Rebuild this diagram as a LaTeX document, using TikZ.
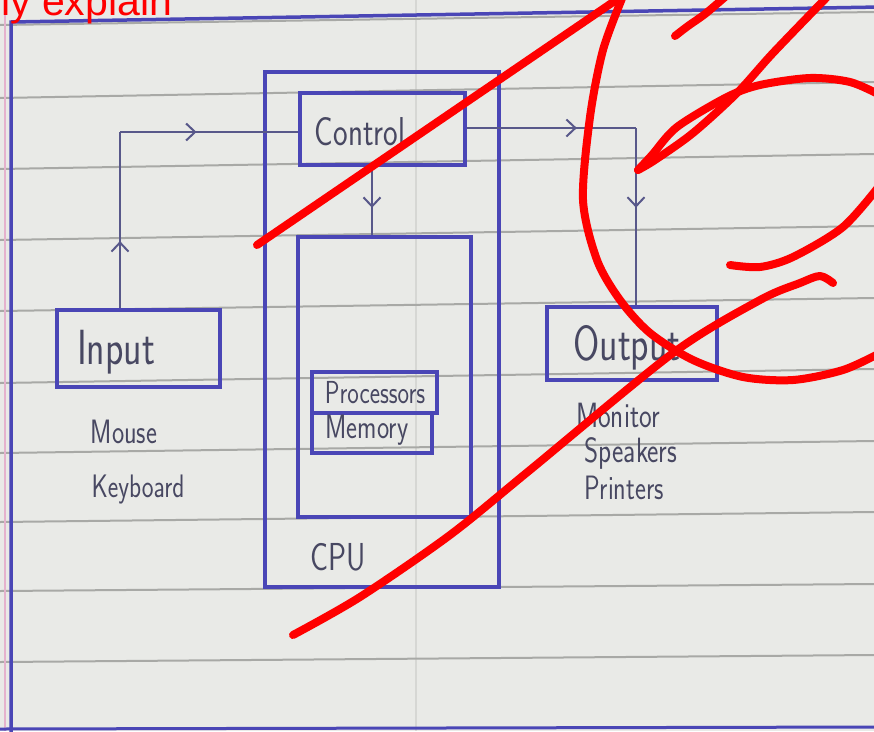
\documentclass[tikz,border=0pt]{standalone}
\usepackage{fontspec}
\newfontfamily\redsans{Liberation Sans}
\usetikzlibrary{arrows.meta,decorations.markings}
\definecolor{paper}{RGB}{233,234,231}
\definecolor{rulec}{RGB}{168,169,166}
\definecolor{foldc}{RGB}{214,215,212}
\definecolor{pen}{RGB}{74,70,182}
\definecolor{connc}{RGB}{88,88,138}
\definecolor{ink}{RGB}{72,72,98}
\definecolor{marginc}{RGB}{228,178,205}
\definecolor{scrib}{RGB}{255,0,0}
\newcommand{\hw}[1]{\scalebox{1}[1.3]{#1}}
\tikzset{
  box/.style={draw=pen,line width=4pt,rectangle,inner sep=0pt},
  hand/.style={text=ink,inner sep=0pt},
  conn/.style={draw=connc,line width=2pt},
  midarrow/.style={postaction={decorate},decoration={markings,mark=at position #1 with {\arrow{Straight Barb[length=9pt,width=17pt,line width=2pt]}}}},
  scribble/.style={draw=scrib,line width=8pt,line cap=round,line join=round},
  notebook/.style={draw=rulec,line width=2pt},
}
\begin{document}
\begin{tikzpicture}[x=1pt,y=-1pt]
\useasboundingbox (0,0) rectangle (874,731);
\clip (0,0) rectangle (874,731);
\fill[paper] (0,0) rectangle (874,731);
% fold line
\draw[foldc,line width=1.5pt] (416,0) -- (416,731);
% notebook rules
\foreach \a/\b in {25/12,98/82,169/154,240/226,311/298,383/369,453/441,522/512,591/584,662/655}
  \draw[notebook] (0,\a) -- (874,\b);
% margin and frame
\draw[marginc,line width=1.5pt] (5,0) -- (5,731);
\draw[pen,line width=3.5pt] (11,735) -- (11,22) -- (880,7);
\draw[pen,line width=3pt] (0,729) -- (880,727);
% boxes
\node[box,minimum width=234pt,minimum height=515pt] (cpu) at (382,329.5) {};
\node[box,minimum width=165pt,minimum height=72pt] (ctrl) at (382.5,129) {};
\node[box,minimum width=173pt,minimum height=280pt] (inner) at (384.5,377) {};
\node[box,minimum width=125pt,minimum height=41pt] (proc) at (374.5,392.5) {};
\node[box,minimum width=120pt,minimum height=40pt] (mem) at (372,433) {};
\node[box,minimum width=163pt,minimum height=77pt] (inp) at (138.5,348.5) {};
\node[box,minimum width=170pt,minimum height=73pt] (out) at (632,343.5) {};
% connectors
\coordinate (c1) at (120,132);
\coordinate (c2) at (636,128);
\coordinate (c3) at (372,200);
\draw[conn,midarrow=0.38] (inp.north -| c1) -- (c1);
\draw[conn,midarrow=0.43] (c1) -- (ctrl.west |- c1);
\draw[conn,midarrow=0.6] (ctrl.south -| c3) -- (inner.north -| c3);
\draw[conn,midarrow=0.65] (ctrl.east |- c2) -- (c2);
\draw[conn,midarrow=0.45] (c2) -- (out.north -| c2);
% texts
\node[hand,font=\sffamily\fontsize{31}{31}\selectfont] (tctrl) at (360,132) {\hw{Control}};
\node[hand,font=\sffamily\fontsize{38}{38}\selectfont] (tinp) at (116,352) {\hw{Input}};
\node[hand,font=\sffamily\fontsize{38}{38}\selectfont] (tout) at (627,348) {\hw{Output}};
\node[hand,font=\sffamily\fontsize{24.5}{25}\selectfont] (tproc) at (375,393) {\hw{Processors}};
\node[hand,font=\sffamily\fontsize{26}{26}\selectfont] (tmem) at (367,430) {\hw{Memory}};
\node[hand,font=\sffamily\fontsize{26}{26}\selectfont] (tmouse) at (124,432) {\hw{Mouse}};
\node[hand,font=\sffamily\fontsize{25}{25}\selectfont] (tkey) at (138,490) {\hw{Keyboard}};
\node[hand,font=\sffamily\fontsize{30}{30}\selectfont] (tcpu) at (338,557) {\hw{CPU}};
\node[hand,font=\sffamily\fontsize{27}{27}\selectfont] (tmon) at (618,415) {\hw{Monitor}};
\node[hand,font=\sffamily\fontsize{27}{27}\selectfont] (tspk) at (631,453) {\hw{Speakers}};
\node[hand,font=\sffamily\fontsize{26}{26}\selectfont] (tprn) at (624,488) {\hw{Printers}};
% red scribbles
\draw[scribble] (257,245) -- (622,-4);
\draw[scribble] plot[smooth] coordinates {(293,635) (360,597) (450,535) (530,470) (673,353) (760,300) (800,283) (820,276) (833,283)};
\draw[scribble] plot[smooth] coordinates {(623,-4) (603,50) (590,117) (583,200) (597,260) (620,300) (650,333) (693,360) (743,377) (793,380) (843,370) (880,353)};
\draw[scribble] plot[smooth] coordinates {(675,36) (688,26) (705,14) (725,-3)};
\draw[scribble] plot[smooth] coordinates {(828,-4) (773,53) (737,93) (693,133) (655,160) (638,170)};
\draw[scribble] plot[smooth] coordinates {(638,170) (652,155) (677,127) (727,97) (760,85) (810,78) (850,82) (880,95)};
\draw[scribble] plot[smooth] coordinates {(880,185) (843,227) (793,257) (760,267) (730,265)};
\node[anchor=base west,inner sep=0pt,text=scrib,font=\redsans\fontsize{41}{41}\selectfont] (hdr) at (1,15) {ly explain};
\end{tikzpicture}
\end{document}
